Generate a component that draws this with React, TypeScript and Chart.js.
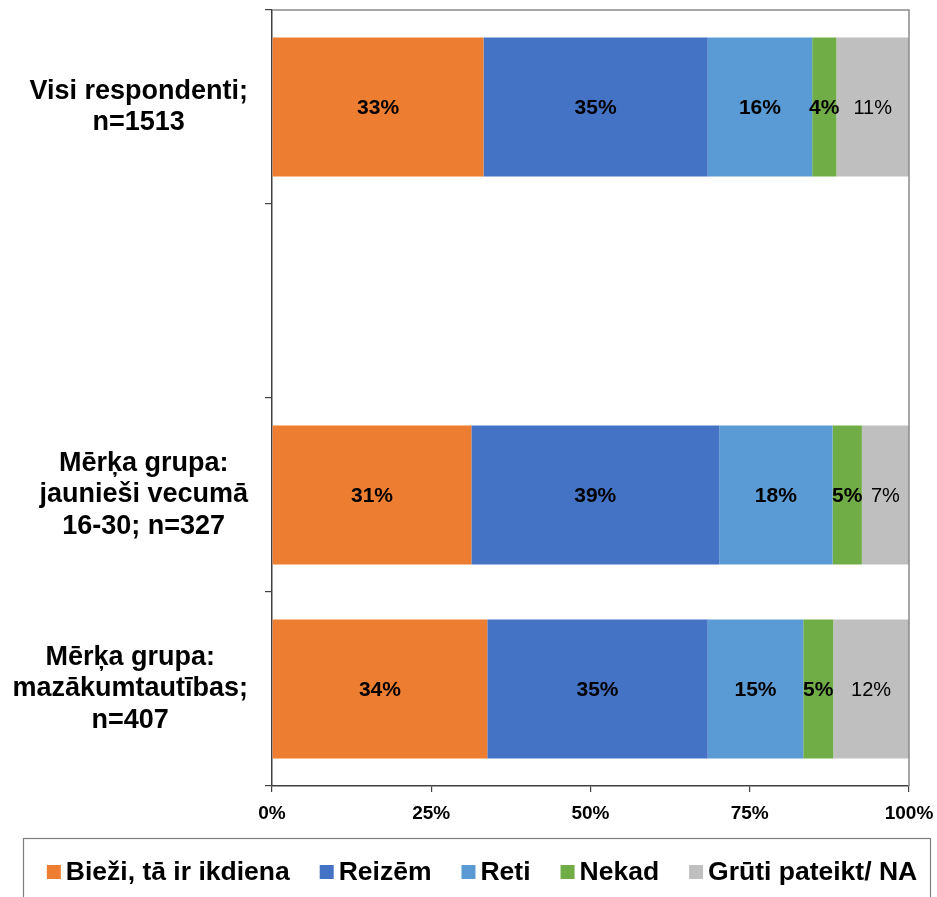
import React, { useEffect, useRef } from "react";
import { Chart, registerables } from "chart.js";

Chart.register(...registerables);

const FONT = '"Liberation Sans", Arial, sans-serif';

const categoryLines: string[][] = [
  ["Visi respondenti;", "n=1513"],
  [],
  ["Mērķa grupa:", "jaunieši vecumā", "16-30; n=327"],
  ["Mērķa grupa:", "mazākumtautības;", "n=407"],
];
const categories = categoryLines.map((l) => l.join(" "));

const seriesNames = ["Bieži, tā ir ikdiena", "Reizēm", "Reti", "Nekad", "Grūti pateikt/ NA"];
const biezi = [33.2, null, 31.3, 33.8];
const reizem = [35.2, null, 38.9, 34.6];
const reti = [16.4, null, 17.8, 15.0];
const nekad = [3.8, null, 4.6, 4.7];
const gruti = [11.4, null, 7.4, 11.9];
const seriesColors = ["#ED7D31", "#4472C4", "#5B9BD5", "#70AD47", "#BFBFBF"];
const xTickValues = [0, 25, 50, 75, 100];

const yLabelsPlugin = {
  id: "yLabels",
  afterDraw(chart: any) {
    const ctx = chart.ctx;
    const y = chart.scales.y;
    ctx.save();
    ctx.font = `bold 27px ${FONT}`;
    ctx.fillStyle = "#000";
    ctx.textAlign = "center";
    ctx.textBaseline = "middle";
    const lh = 31.5;
    categoryLines.forEach((lines, i) => {
      if (!lines.length) return;
      const widest = Math.max(...lines.map((l) => ctx.measureText(l).width));
      const cx = chart.chartArea.left - 24 - widest / 2;
      const cy = y.getPixelForValue(i);
      lines.forEach((l, j) => ctx.fillText(l, cx, cy + (j - (lines.length - 1) / 2) * lh));
    });
    ctx.restore();
  },
};

const framePlugin = {
  id: "frame",
  afterDraw(chart: any) {
    const ctx = chart.ctx;
    const a = chart.chartArea;
    ctx.save();
    ctx.strokeStyle = "#8a8a8a";
    ctx.lineWidth = 1.5;
    ctx.beginPath();
    ctx.moveTo(a.left, a.top);
    ctx.lineTo(a.right, a.top);
    ctx.lineTo(a.right, a.bottom);
    ctx.stroke();
    ctx.restore();
  },
};

// Legend drawn in a bordered box below the chart
const legendPlugin = {
  id: "boxLegend",
  afterDraw(chart: any) {
    const ctx = chart.ctx;
    const boxLeft = 23.5;
    const boxRight = 930.5;
    const boxTop = 838.5;
    ctx.save();
    ctx.strokeStyle = "#7f7f7f";
    ctx.lineWidth = 1.2;
    ctx.strokeRect(boxLeft, boxTop, boxRight - boxLeft, 120);
    ctx.font = `bold 26.5px ${FONT}`;
    ctx.textBaseline = "middle";
    ctx.textAlign = "left";
    const sq = 14;
    const gapIn = 5;
    const gapOut = 30;
    const items = chart.data.datasets.map((ds: any) => ({
      text: ds.label,
      color: ds.backgroundColor,
      w: ctx.measureText(ds.label).width,
    }));
    const total =
      items.reduce((s: number, it: any) => s + sq + gapIn + it.w, 0) + gapOut * (items.length - 1);
    let x = (boxLeft + boxRight) / 2 + 5 - total / 2;
    const cy = 872;
    items.forEach((it: any) => {
      ctx.fillStyle = it.color;
      ctx.fillRect(x, cy - sq / 2, sq, sq);
      x += sq + gapIn;
      ctx.fillStyle = "#000";
      ctx.fillText(it.text, x, cy + 1);
      x += it.w + gapOut;
    });
    ctx.restore();
  },
};

const dataLabelsPlugin = {
  id: "dataLabels",
  afterDatasetsDraw(chart: any) {
    const ctx = chart.ctx;
    ctx.save();
    ctx.fillStyle = "#000";
    ctx.textAlign = "center";
    ctx.textBaseline = "middle";
    chart.data.datasets.forEach((ds: any, di: number) => {
      const meta = chart.getDatasetMeta(di);
      meta.data.forEach((bar: any, i: number) => {
        const v = ds.data[i];
        if (v == null) return;
        const { x, y, base } = bar.getProps(["x", "y", "base"], true);
        ctx.font = di === 4 ? `20px ${FONT}` : `bold 21px ${FONT}`;
        ctx.fillText(Math.round(v) + "%", (x + base) / 2, y + 1);
      });
    });
    ctx.restore();
  },
};

export default function App() {
  const ref = useRef<HTMLCanvasElement>(null);
  useEffect(() => {
    if (!ref.current) return;
    const values = [biezi, reizem, reti, nekad, gruti];
    const chart = new Chart(ref.current, {
      type: "bar",
      data: {
        labels: categories,
        datasets: seriesNames.map((name, i) => ({
          label: name,
          data: values[i] as any,
          backgroundColor: seriesColors[i],
          borderWidth: 0,
          categoryPercentage: 0.716,
          barPercentage: 1,
        })),
      },
      options: {
        indexAxis: "y",
        responsive: false,
        animation: false,
        devicePixelRatio: 1,
        layout: { padding: { top: 10, right: 28, left: 0, bottom: 58 } },
        scales: {
          x: {
            type: "linear",
            stacked: true,
            min: 0,
            max: 100,
            afterBuildTicks: (s: any) => {
              s.ticks = xTickValues.map((v) => ({ value: v }));
            },
            afterFit: (s: any) => {
              s.height = 53;
              s.paddingLeft = 0;
              s.paddingRight = 0;
            },
            ticks: {
              callback: (v: any) => v + "%",
              font: { family: FONT, size: 19, weight: "bold" },
              color: "#000",
              padding: 10,
              maxRotation: 0,
            },
            grid: { drawOnChartArea: false, drawTicks: true, tickLength: 6, color: "#404040", lineWidth: 1.2 },
            border: { color: "#404040", width: 1.5 },
          },
          y: {
            type: "category",
            stacked: true,
            afterFit: (s: any) => {
              s.width = 272;
              s.paddingTop = 0;
              s.paddingBottom = 0;
            },
            ticks: { display: false },
            grid: { drawOnChartArea: false, drawTicks: true, tickLength: 7, color: "#404040", lineWidth: 1.2, offset: true },
            border: { color: "#404040", width: 1.5 },
          },
        },
        plugins: {
          legend: { display: false },
          tooltip: { enabled: false },
        },
      },
      plugins: [yLabelsPlugin, framePlugin, dataLabelsPlugin, legendPlugin],
    } as any);
    return () => chart.destroy();
  }, []);
  return (
    <div style={{ position: "absolute", left: 0, top: 0, width: 937, height: 897, background: "#fff" }}>
      <canvas ref={ref} width={937} height={897} />
    </div>
  );
}
